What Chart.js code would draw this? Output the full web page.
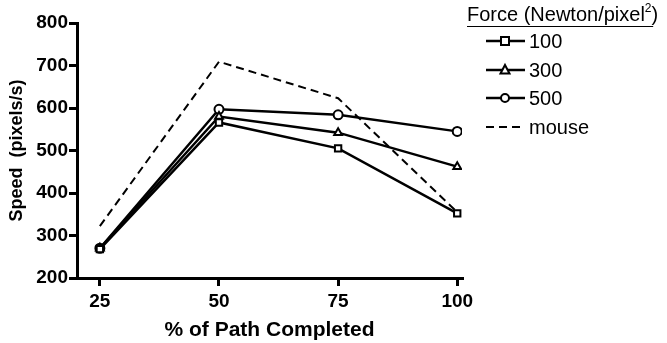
<!DOCTYPE html>
<html><head><meta charset="utf-8">
<script src="https://cdn.jsdelivr.net/npm/chart.js@4/dist/chart.umd.min.js"></script>
<style>html,body{margin:0;padding:0;background:#fff}#wrap{width:667px;height:343px}</style>
</head><body><div id="wrap"><canvas id="c" width="667" height="343"></canvas></div>
<script>
const pathPercent = [25, 50, 75, 100];
const force100 = [268, 566, 505, 352];
const force300 = [270, 580, 542, 462];
const force500 = [270, 597, 584, 545];
const mouse = [322, 709, 623, 355];
const yTicks = [200, 300, 400, 500, 600, 700, 800];
const legendTitle = "Force (Newton/pixel";
const FONT = "'Liberation Sans', Arial, sans-serif";

const toXY = arr => arr.map((v, i) => ({x: pathPercent[i], y: v}));

const legendPlugin = {
  id: 'customLegend',
  afterDraw(chart) {
    const ctx = chart.ctx;
    ctx.save();
    ctx.fillStyle = '#000';
    ctx.strokeStyle = '#000';
    ctx.font = '20px ' + FONT;
    ctx.textBaseline = 'middle';
    let x = 467, y = 15;
    ctx.fillText(legendTitle, x, y);
    let w1 = ctx.measureText(legendTitle).width;
    ctx.font = '12px ' + FONT;
    ctx.fillText('2', x + w1, y - 6);
    let w2 = ctx.measureText('2').width;
    ctx.font = '20px ' + FONT;
    ctx.fillText(')', x + w1 + w2, y);
    let w3 = ctx.measureText(')').width;
    ctx.lineWidth = 1;
    ctx.beginPath(); ctx.moveTo(x, 26.5); ctx.lineTo(x + w1 + w2 + w3 - 5, 26.5); ctx.stroke();
    const ys = [41, 70, 98, 127];
    chart.data.datasets.forEach((ds, i) => {
      const yy = ys[i];
      ctx.lineWidth = ds.borderWidth;
      ctx.setLineDash(ds.borderDash || []);
      ctx.beginPath(); ctx.moveTo(486, yy); ctx.lineTo(525, yy); ctx.stroke();
      ctx.setLineDash([]);
      if (ds.pointRadius > 0) {
        ctx.fillStyle = '#fff';
        ctx.lineWidth = 2;
        const r = 4;
        ctx.beginPath();
        if (ds.pointStyle === 'rect') { ctx.rect(505 - r, yy - r, 2*r, 2*r); }
        else if (ds.pointStyle === 'triangle') { ctx.moveTo(505, yy - r - 1); ctx.lineTo(505 + r + 0.5, yy + r - 0.5); ctx.lineTo(505 - r - 0.5, yy + r - 0.5); ctx.closePath(); }
        else { ctx.arc(505, yy, r, 0, Math.PI*2); }
        ctx.fill(); ctx.stroke();
      }
      ctx.fillStyle = '#000';
      ctx.font = '20px ' + FONT;
      ctx.fillText(ds.label, 529, yy + 1);
    });
    ctx.restore();
  }
};

const mk = (label, data, style) => ({
  label, data: toXY(data), borderColor: '#000', backgroundColor: '#fff',
  borderWidth: 2.5, pointStyle: style, pointRadius: 4.5, pointBorderWidth: 2,
  pointBackgroundColor: '#fff', pointBorderColor: '#000', tension: 0
});

new Chart(document.getElementById('c'), {
  type: 'line',
  data: {
    datasets: [
      mk('100', force100, 'rect'),
      mk('300', force300, 'triangle'),
      mk('500', force500, 'circle'),
      {label: 'mouse', data: toXY(mouse), borderColor: '#000', borderWidth: 2,
       borderDash: [8, 5], pointRadius: 0, tension: 0}
    ]
  },
  options: {
    responsive: false, animation: false,
    events: [],
    layout: {padding: {left: 0, top: 23, right: 205, bottom: 0}},
    plugins: {legend: {display: false}, tooltip: {enabled: false}},
    scales: {
      x: {
        type: 'linear', min: 20.2, max: 101,
        afterBuildTicks: s => { s.ticks = pathPercent.map(v => ({value: v})); },
        afterFit: s => { s.height = 65; },
        border: {color: '#000', width: 3},
        grid: {drawOnChartArea: false, color: '#000', lineWidth: 3, tickLength: 8},
        ticks: {color: '#000', font: {family: FONT, size: 19, weight: 'bold'}, padding: 4, maxRotation: 0},
        title: {display: true, text: '% of Path Completed', color: '#000',
                font: {family: FONT, size: 21, weight: 'bold'}, padding: {top: 2, bottom: 0}}
      },
      y: {
        min: 200, max: 800,
        afterBuildTicks: s => { s.ticks = yTicks.map(v => ({value: v})); },
        afterFit: s => { s.width = 77; },
        border: {color: '#000', width: 3},
        grid: {drawOnChartArea: false, color: '#000', lineWidth: 3, tickLength: 8},
        ticks: {color: '#000', font: {family: FONT, size: 19, weight: 'bold'}, padding: 1},
        title: {display: true, text: 'Speed  (pixels/s)', color: '#000',
                font: {family: FONT, size: 18, weight: 'bold'}, padding: {bottom: 0, top: 6}}
      }
    }
  },
  plugins: [legendPlugin]
});
</script></body></html>
